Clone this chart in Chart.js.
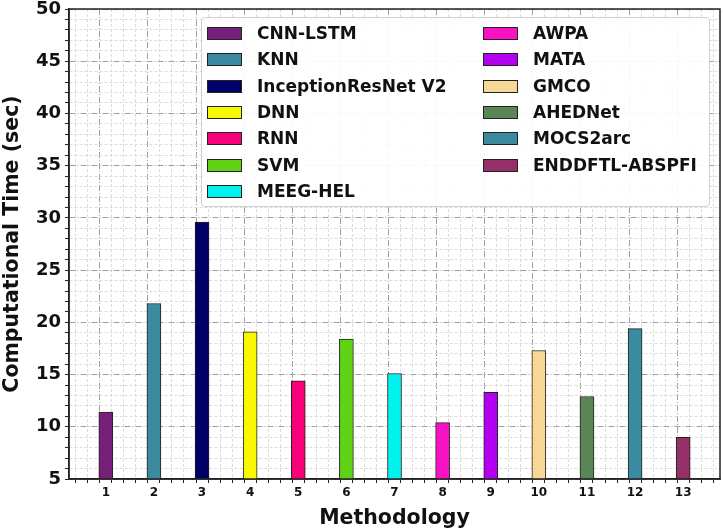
<!DOCTYPE html>
<html>
<head>
<meta charset="utf-8">
<script src="https://cdn.jsdelivr.net/npm/chart.js@4"></script>
<style>
  body { margin: 0; background: #fff; }
  #wrap { position: relative; width: 723px; height: 531px; }
  #legend {
    position: absolute; left: 201px; top: 17px; width: 507px; height: 188px;
    background: rgba(255,255,255,0.9); border: 1px solid #d0d0d0; border-radius: 4px;
    font: bold 17px "DejaVu Sans", sans-serif; color: #111;
  }
  .item { position: absolute; height: 20px; line-height: 20px; white-space: nowrap; }
  .sw { position: absolute; left: 0; top: 3px; width: 33px; height: 11px; border: 1px solid #222; }
  .lab { position: absolute; left: 50px; top: -1px; }
</style>
</head>
<body>
<div id="wrap">
  <canvas id="barChart"></canvas>
  <div id="legend"></div>
</div>
<script>
// data
var methods = ["CNN-LSTM", "KNN", "InceptionResNet V2", "DNN", "RNN", "SVM", "MEEG-HEL",
               "AWPA", "MATA", "GMCO", "AHEDNet", "MOCS2arc", "ENDDFTL-ABSPFI"];
var methodIndex = [1, 2, 3, 4, 5, 6, 7, 8, 9, 10, 11, 12, 13];
var compTime = [11.4, 21.8, 29.6, 19.1, 14.4, 18.4, 15.1, 10.4, 13.3, 17.3, 12.9, 19.4, 9.0];
var barColors = ["#76207a", "#3a8aa0", "#000066", "#f8f800", "#f8007a", "#5fd314", "#00f2ee",
                 "#f812c4", "#b400f0", "#f7d896", "#5a8555", "#3a8aa0", "#953069"];
var yTicks = [5, 10, 15, 20, 25, 30, 35, 40, 45, 50];

// legend, two columns
var legend = document.getElementById('legend');
methods.forEach(function(name, i){
    var col = i < 7 ? 0 : 1;
    var row = i < 7 ? i : i - 7;
    var it = document.createElement('div');
    it.className = 'item';
    it.style.left = (col ? 281 : 5) + 'px';
    it.style.top = (6 + row * 26.3) + 'px';
    it.innerHTML = '<span class="sw" style="background:' + barColors[i] + '"></span><span class="lab"></span>';
    it.querySelector('.lab').textContent = name;
    legend.appendChild(it);
});

var frame = {
    id: 'frame',
    afterDraw: function(chart){
        var a = chart.chartArea, c = chart.ctx;
        c.save();
        c.strokeStyle = '#222';
        c.lineWidth = 1.5;
        c.strokeRect(a.left, a.top, a.right - a.left, a.bottom - a.top);
        c.restore();
    }
};

var isMajorY = function(c){ return !c.tick || yTicks.indexOf(c.tick.value) >= 0; };
var isMajorX = function(c){ return !c.tick || Number.isInteger(c.tick.value); };

var ctx = document.getElementById("barChart").getContext('2d');
var myBarChart = new Chart(ctx, {
    type: 'bar',
    data: {
        datasets: [{
            data: methodIndex.map(function(x, i){ return {x: x, y: compTime[i]}; }),
            backgroundColor: barColors,
            borderColor: '#222',
            borderWidth: 1,
            borderSkipped: 'bottom',
            barThickness: 14
        }]
    },
    options: {
        responsive: true,
        maintainAspectRatio: false,
        animation: false,
        layout: { padding: { top: 9, right: 3 } },
        plugins: { legend: { display: false }, tooltip: { enabled: false } },
        scales: {
            x: {
                type: 'linear',
                min: 0.235,
                max: 13.765,
                offset: false,
                afterFit: function(s){ s.height = 52; s.paddingLeft = 0; s.paddingRight = 0; },
                ticks: {
                    stepSize: 0.25,
                    autoSkip: false,
                    includeBounds: false,
                    maxRotation: 0,
                    padding: 3,
                    color: '#111',
                    font: { family: 'DejaVu Sans', size: 12, weight: 'bold' },
                    callback: function(v){ return Number.isInteger(v) ? v : ''; }
                },
                grid: {
                    color: function(c){ return isMajorX(c) ? '#a0a0a0' : '#dcdcdc'; },
                    tickColor: '#222',
                    tickLength: 4,
                    tickBorderDash: []
                },
                border: {
                    color: '#222',
                    width: 1.5,
                    dash: function(c){ return !c.tick ? [] : (isMajorX(c) ? [6, 2, 1, 2] : [3, 2]); }
                },
                title: {
                    display: true,
                    text: 'Methodology',
                    color: '#111',
                    padding: { top: 2, bottom: 0 },
                    font: { family: 'DejaVu Sans', size: 20.5, weight: 'bold' }
                }
            },
            y: {
                min: 5,
                max: 50,
                afterFit: function(s){ s.width = 69; s.paddingTop = 0; s.paddingBottom = 0; },
                ticks: {
                    stepSize: 1,
                    autoSkip: false,
                    padding: 4,
                    color: '#111',
                    font: { family: 'DejaVu Sans', size: 18, weight: 'bold' },
                    callback: function(v){ return yTicks.indexOf(v) >= 0 ? v : ''; }
                },
                grid: {
                    color: function(c){ return isMajorY(c) ? '#a0a0a0' : '#dcdcdc'; },
                    tickColor: '#222',
                    tickLength: 4,
                    tickBorderDash: []
                },
                border: {
                    color: '#222',
                    width: 1.5,
                    dash: function(c){ return !c.tick ? [] : (isMajorY(c) ? [6, 2, 1, 2] : [3, 2]); }
                },
                title: {
                    display: true,
                    text: 'Computational Time (sec)',
                    color: '#111',
                    padding: { top: 0, bottom: 1 },
                    font: { family: 'DejaVu Sans', size: 20.5, weight: 'bold' }
                }
            }
        }
    },
    plugins: [frame]
});
</script>
</body>
</html>
